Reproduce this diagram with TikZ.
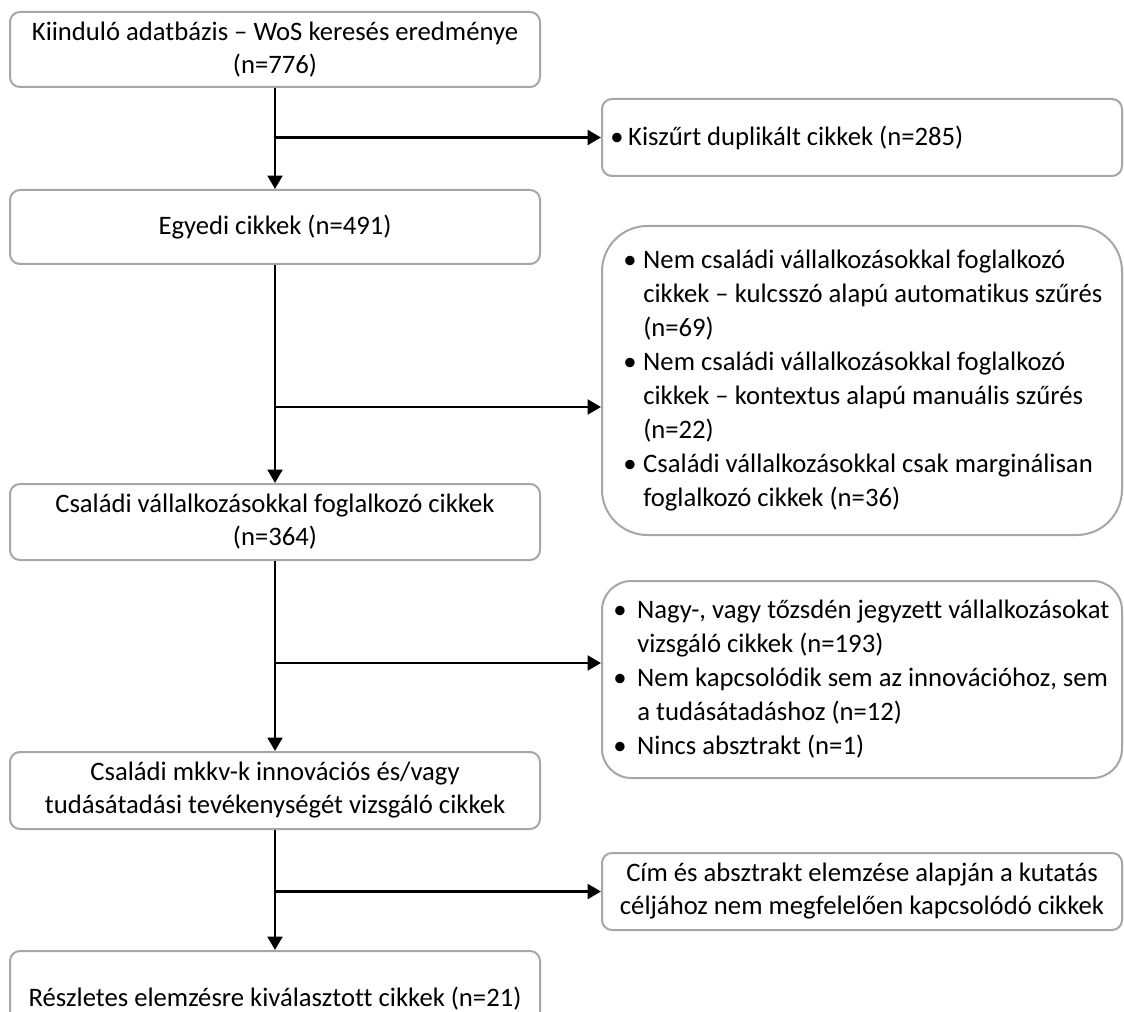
\documentclass[tikz,border=0pt]{standalone}
\usepackage{fontspec}
\setmainfont{Carlito}[Ligatures=NoCommon]
\usetikzlibrary{arrows.meta,fit}
\definecolor{boxgray}{HTML}{A6A6A6}
\newcommand{\mybul}[1]{\makebox[#1][l]{•}}
\newcommand{\myind}[1]{\hspace*{#1}}
\begin{document}
\begin{tikzpicture}[x=0.75pt,y=-0.75pt,
  box/.style={draw=boxgray, line width=1.5pt, rounded corners=7.5pt, inner sep=0pt},
  txt/.style={font=\fontsize{20}{24.75}\selectfont, inner sep=0pt, align=center},
  txtb/.style={font=\fontsize{20}{25.5}\selectfont, inner sep=0pt, align=left, anchor=west},
  arr/.style={line width=2.1pt, -{Triangle[length=10pt,width=11pt]}}]
\useasboundingbox (0,0) rectangle (1124,1012);
% left column
\node[box, fit={(10,12)(540,87)}] (b1) {};
\node[txt] (b1t) at (b1.center) {Kiinduló adatbázis – WoS keresés eredménye\\(n=776)};
\node[box, fit={(10,190)(540,264)}] (b2) {};
\node[txt] (b2t) at (b2.center) {Egyedi cikkek (n=491)};
\node[box, fit={(10,484)(540,560)}] (b3) {};
\node[txt] (b3t) at (b3.center) {Családi vállalkozásokkal foglalkozó cikkek\\(n=364)};
\node[box, fit={(10,752)(540,829)}] (b4) {};
\node[txt] (b4t) at (b4.center) {Családi mkkv-k innovációs és/vagy\\tudásátadási tevékenységét vizsgáló cikkek};
\node[box, fit={(10,951)(540,1047)}] (b5) {};
\node[txt] (b5t) at (b5.center) {Részletes elemzésre kiválasztott cikkek (n=21)};
% right column
\node[box, fit={(602,99)(1122,176)}] (r1) {};
\node[txtb] (r1t) at (610,137.5) {\mybul{13.5pt}Kiszűrt duplikált cikkek (n=285)};
\node[box, rounded corners=34pt, fit={(602,226)(1122,535)}] (r2) {};
\node[txtb] (r2t) at (623,380.5) {\mybul{15pt}Nem családi vállalkozásokkal foglalkozó\\
\myind{15pt}cikkek – kulcsszó alapú automatikus szűrés\\
\myind{15pt}(n=69)\\
\mybul{15pt}Nem családi vállalkozásokkal foglalkozó\\
\myind{15pt}cikkek – kontextus alapú manuális szűrés\\
\myind{15pt}(n=22)\\
\mybul{15pt}Családi vállalkozásokkal csak marginálisan\\
\myind{15pt}foglalkozó cikkek (n=36)};
\node[box, rounded corners=22pt, fit={(602,581)(1122,778)}] (r3) {};
\node[txtb] (r3t) at (613,679.5) {\mybul{18pt}Nagy-, vagy tőzsdén jegyzett vállalkozásokat\\
\myind{18pt}vizsgáló cikkek (n=193)\\
\mybul{18pt}Nem kapcsolódik sem az innovációhoz, sem\\
\myind{18pt}a tudásátadáshoz (n=12)\\
\mybul{18pt}Nincs absztrakt (n=1)};
\node[box, fit={(602,853)(1122,930)}] (r4) {};
\node[txt] (r4t) at (r4.center) {Cím és absztrakt elemzése alapján a kutatás\\céljához nem megfelelően kapcsolódó cikkek};
% connectors
\coordinate (j1) at (275,137.5);
\coordinate (j2) at (275,407);
\coordinate (j3) at (275,663);
\coordinate (j4) at (275,891.5);
\draw[arr] (b1.south) -- (b2.north);
\draw[arr] (j1) -- (j1 -| r1.west);
\draw[arr] (b2.south) -- (b3.north);
\draw[arr] (j2) -- (j2 -| r2.west);
\draw[arr] (b3.south) -- (b4.north);
\draw[arr] (j3) -- (j3 -| r3.west);
\draw[arr] (b4.south) -- (b5.north);
\draw[arr] (j4) -- (j4 -| r4.west);
\end{tikzpicture}
\end{document}
